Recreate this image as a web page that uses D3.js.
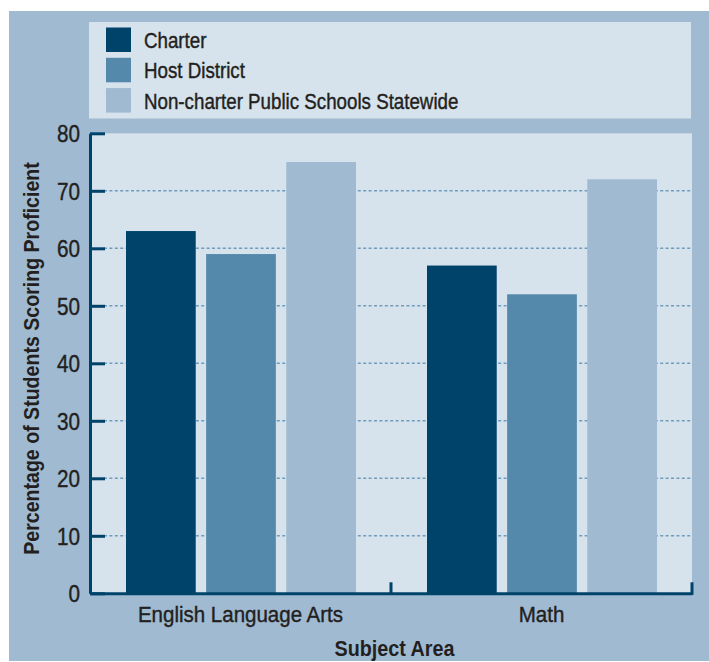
<!DOCTYPE html>
<html>
<head>
<meta charset="utf-8">
<script src="https://cdn.jsdelivr.net/npm/d3@7"></script>
<style>
  html, body { margin: 0; padding: 0; background: #ffffff; }
  svg { display: block; }
  text { font-family: "Liberation Sans", Arial, sans-serif; fill: #231f20; }
  text.reg { stroke: #231f20; stroke-width: 0.4px; }
</style>
</head>
<body>
<svg id="chart" width="709" height="662"></svg>
<script>
// Subject areas on the x axis
const subjects = ["English Language Arts", "Math"];
// School groups compared within each subject
const groups = ["Charter", "Host District", "Non-charter Public Schools Statewide"];
// Percentage of students scoring proficient, one array per group
const charterValues = [63, 57];
const hostDistrictValues = [59, 52];
const statewideValues = [75, 72];
// Y axis ticks
const yTicks = [0, 10, 20, 30, 40, 50, 60, 70, 80];

const seriesValues = [charterValues, hostDistrictValues, statewideValues];
const colors = ["#00436a", "#5589ab", "#9fbad1"];

const svg = d3.select("#chart");

// outer panel and plot frame
const panel = { x: 9, y: 11, w: 700, h: 650 };
const plot = { left: 90, right: 692, top: 133.3, bottom: 593.3 };

// places a horizontally condensed label at (x, y)
function condensedText(parent, x, y, sx, str) {
  return parent.append("text")
    .attr("transform", `translate(${x},${y}) scale(${sx},1)`)
    .text(str);
}

svg.append("rect")
  .attr("x", panel.x).attr("y", panel.y)
  .attr("width", panel.w).attr("height", panel.h)
  .attr("fill", "#9fbad1");

// legend box
const legend = svg.append("g");
legend.append("rect")
  .attr("x", 89).attr("y", 22).attr("width", 602).attr("height", 96.5)
  .attr("fill", "#d6e2ec");
groups.forEach((g, i) => {
  const y0 = 27.5 + i * 30.3;
  legend.append("rect")
    .attr("x", 106).attr("y", y0).attr("width", 25).attr("height", 24.5)
    .attr("fill", colors[i]);
  condensedText(legend, 144, y0 + 20.5, 0.88, g)
    .attr("class", "reg")
    .attr("font-size", 21.3);
});

// scales
const y = d3.scaleLinear().domain([0, 80]).range([plot.bottom, plot.top]);
const x0 = d3.scaleBand().domain(subjects).range([plot.left, plot.right]).paddingInner(0).paddingOuter(0);
const x1 = d3.scaleBand().domain(groups).range([36, 266]).paddingInner(0.13).paddingOuter(0);

// plot background
svg.append("rect")
  .attr("x", plot.left).attr("y", plot.top)
  .attr("width", plot.right - plot.left).attr("height", plot.bottom - plot.top)
  .attr("fill", "#d6e2ec");

// dotted gridlines
svg.append("g")
  .selectAll("line")
  .data(yTicks.filter(t => t > 0 && t < 80))
  .join("line")
  .attr("x1", plot.left + 14).attr("x2", plot.right)
  .attr("y1", d => y(d)).attr("y2", d => y(d))
  .attr("stroke", "#6f9cbd")
  .attr("stroke-width", 1.6)
  .attr("stroke-dasharray", "3,2.4");

// bars
const barGroups = svg.append("g")
  .selectAll("g")
  .data(subjects)
  .join("g")
  .attr("transform", d => `translate(${x0(d)},0)`);

barGroups.selectAll("rect")
  .data((d, i) => groups.map((g, k) => ({ group: g, value: seriesValues[k][i], k })))
  .join("rect")
  .attr("x", d => x1(d.group))
  .attr("width", x1.bandwidth())
  .attr("y", d => y(d.value))
  .attr("height", d => y(0) - y(d.value))
  .attr("fill", d => colors[d.k]);

// y axis
const ySx = 0.88;
const yAxis = d3.axisLeft(y).tickValues(yTicks).tickSize(-15).tickSizeOuter(0);
const gy = svg.append("g")
  .attr("transform", `translate(${plot.left},0)`)
  .call(yAxis);
gy.select(".domain").attr("stroke", "#00436a").attr("stroke-width", 3);
gy.selectAll(".tick line").attr("stroke", "#00436a").attr("stroke-width", 3);
gy.selectAll(".tick text")
  .attr("class", "reg")
  .attr("font-size", 23.5)
  .attr("font-family", "'Liberation Sans', Arial, sans-serif")
  .attr("x", -10 / ySx)
  .attr("dy", "0.36em")
  .attr("transform", `scale(${ySx},1)`)
  .attr("fill", "#231f20");

// x axis line and band separators
const xSx = 0.92;
const xAxis = d3.axisBottom(x0).tickSize(0).tickPadding(13);
const gx = svg.append("g")
  .attr("transform", `translate(0,${plot.bottom})`)
  .call(xAxis);
gx.select(".domain").attr("stroke", "#00436a").attr("stroke-width", 3);
gx.selectAll(".tick text")
  .attr("class", "reg")
  .attr("font-size", 22.3)
  .attr("font-family", "'Liberation Sans', Arial, sans-serif")
  .attr("dy", "0.71em")
  .attr("transform", `scale(${xSx},1)`)
  .attr("fill", "#231f20");

svg.append("g")
  .selectAll("line")
  .data(subjects)
  .join("line")
  .attr("x1", d => x0(d) + x0.bandwidth())
  .attr("x2", d => x0(d) + x0.bandwidth())
  .attr("y1", plot.bottom + 1.5).attr("y2", plot.bottom - 11)
  .attr("stroke", "#00436a")
  .attr("stroke-width", 3);

// axis titles
condensedText(svg, 394.5, 656, 0.92, "Subject Area")
  .attr("text-anchor", "middle")
  .attr("font-size", 21.5)
  .attr("font-weight", "bold");

svg.append("text")
  .attr("transform", `translate(38.5,358.5) rotate(-90) scale(0.89,1)`)
  .attr("text-anchor", "middle")
  .attr("font-size", 22)
  .attr("font-weight", "bold")
  .text("Percentage of Students Scoring Proficient");
</script>
</body>
</html>
